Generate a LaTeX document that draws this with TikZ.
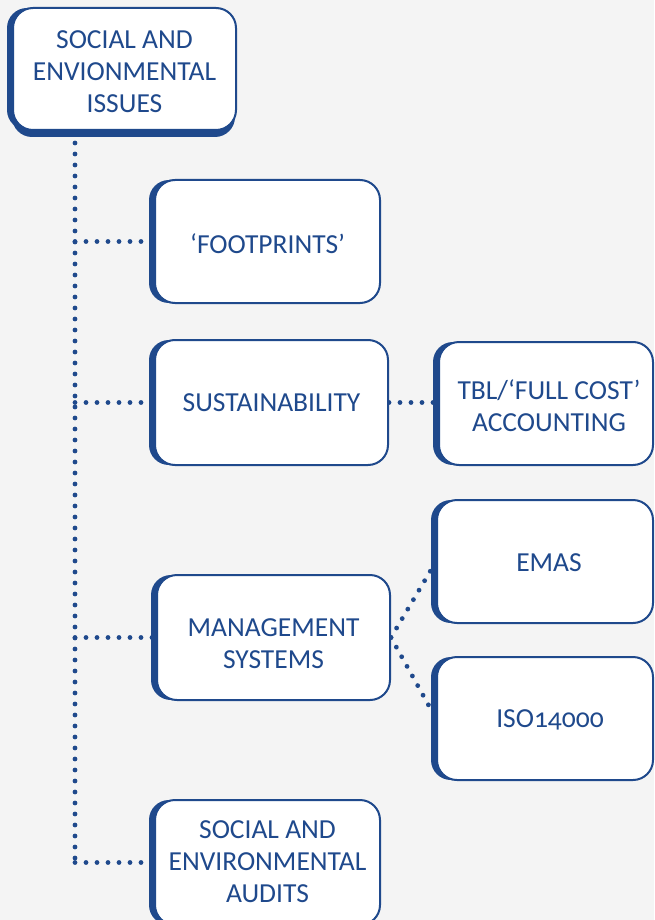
\documentclass[tikz,border=0pt]{standalone}
\usepackage{fontspec}
\setmainfont[Numbers=OldStyle]{Carlito}
\usetikzlibrary{shadows}
\pgfdeclarelayer{background}
\pgfsetlayers{background,main}
\definecolor{mainblue}{RGB}{31,73,140}
\definecolor{bggray}{RGB}{244,244,244}
\tikzset{
  box/.style={draw=mainblue, line width=2pt, fill=white, rounded corners=20pt,
    inner sep=0pt,
    drop shadow={shadow xshift=-6pt, shadow yshift=0pt, fill=mainblue, opacity=1, draw=none}},
  topbox/.style={box, drop shadow={shadow xshift=-1pt, shadow yshift=-7pt, fill=mainblue, opacity=1, draw=none}},
  txt/.style={inner sep=0pt, align=center, text=mainblue, font=\fontsize{27.5}{32}\selectfont},
  dotline/.style={draw=mainblue, line width=4.8pt, line cap=round, dash pattern=on 0pt off 11pt}
}
\begin{document}
\begin{tikzpicture}[x=1pt,y=-1pt]
\useasboundingbox (0,0) rectangle (654,920);
\begin{pgfonlayer}{background}
\fill[bggray] (0,0) rectangle (654,920);
\end{pgfonlayer}
\node[topbox, minimum width=223pt, minimum height=122pt] (top) at (124.5,69) {};
\node[box, minimum width=225pt, minimum height=123pt] (foot) at (267.5,241.5) {};
\node[box, minimum width=233pt, minimum height=125pt] (sust) at (271.5,402.5) {};
\node[box, minimum width=214pt, minimum height=123pt] (tbl) at (546,403.5) {};
\node[box, minimum width=233pt, minimum height=125pt] (mgmt) at (273.5,637.5) {};
\node[box, minimum width=216pt, minimum height=123pt] (emas) at (545,561.5) {};
\node[box, minimum width=216pt, minimum height=123pt] (iso) at (545,718.5) {};
\node[box, minimum width=225pt, minimum height=125pt] (audit) at (267.5,862.5) {};
\node[txt] (topT) at ([yshift=-3pt]top.center) {SOCIAL AND\\ENVIONMENTAL\\ISSUES};
\node[txt] (footT) at ([yshift=-2pt]foot.center) {‘FOOTPRINTS’};
\node[txt] (sustT) at (sust.center) {SUSTAINABILITY};
\node[txt] (tblT) at ([xshift=3pt,yshift=-2pt]tbl.center) {TBL/‘FULL COST’\\ACCOUNTING};
\node[txt] (mgmtT) at ([yshift=-6pt]mgmt.center) {MANAGEMENT\\SYSTEMS};
\node[txt] (emasT) at ([xshift=4pt,yshift=-1pt]emas.center) {EMAS};
\node[txt] (isoT) at ([xshift=5pt,yshift=-1pt]iso.center) {ISO14000};
\node[txt] (auditT) at ([yshift=1pt]audit.center) {SOCIAL AND\\ENVIRONMENTAL\\AUDITS};
\coordinate (trunk) at (75,143);
\begin{pgfonlayer}{background}
\draw[dotline] (trunk) -- (trunk |- audit.west);
\draw[dotline] (trunk |- foot.west) -- (foot.west);
\draw[dotline] (trunk |- sust.west) -- (sust.west);
\draw[dotline] (trunk |- mgmt.west) -- (mgmt.west);
\draw[dotline] (trunk |- audit.west) -- (audit.west);
\draw[dotline] (sust.east) -- (sust.east -| tbl.west);
\draw[dotline] (mgmt.east) -- (emas.west);
\draw[dotline] (mgmt.east) -- (iso.west);
\end{pgfonlayer}
\end{tikzpicture}
\end{document}
